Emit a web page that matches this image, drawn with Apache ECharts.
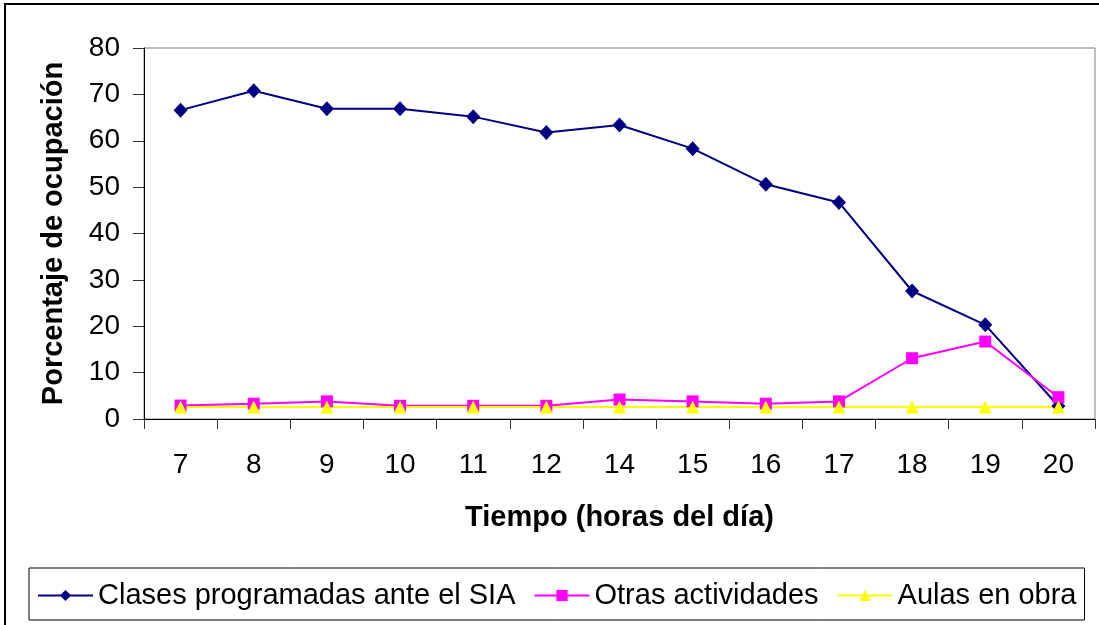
<!DOCTYPE html>
<html>
<head>
<meta charset="utf-8">
<script src="https://cdn.jsdelivr.net/npm/echarts@6/dist/echarts.min.js"></script>
<style>
    html, body { margin: 0; padding: 0; background: #fff; }
    #container { width: 1099px; height: 625px; }
</style>
</head>
<body>
<div id="container"></div>

<script type="text/javascript">
    // horas del dia
    var horas = ['7', '8', '9', '10', '11', '12', '14', '15', '16', '17', '18', '19', '20'];
    // porcentaje de ocupacion por serie
    var clasesSIA = [66.6, 70.8, 66.9, 66.9, 65.2, 61.8, 63.4, 58.3, 50.6, 46.7, 27.6, 20.3, 2.8];
    var otrasActividades = [2.9, 3.3, 3.8, 2.85, 2.85, 2.85, 4.2, 3.8, 3.3, 3.8, 13.1, 16.7, 4.7];
    var aulasObra = [2.6, 2.6, 2.6, 2.6, 2.6, 2.6, 2.6, 2.6, 2.6, 2.6, 2.6, 2.6, 2.6];
    var yTicks = [0, 10, 20, 30, 40, 50, 60, 70, 80];

    var fuente = '"Liberation Sans", Arial, sans-serif';

    var dom = document.getElementById("container");
    var myChart = echarts.init(dom);

    var option = {
        backgroundColor: '#fff',
        animation: false,
        graphic: [{
            type: 'rect',
            silent: true,
            shape: { x: 5, y: 4, width: 1200, height: 700 },
            style: { fill: 'none', stroke: '#000', lineWidth: 2 }
        }],
        grid: {
            left: 144,
            top: 48,
            right: 4,
            bottom: 206,
            show: true,
            borderColor: '#808080',
            borderWidth: 1
        },
        legend: {
            left: 29,
            top: 568,
            itemWidth: 55,
            itemHeight: 14,
            itemGap: 18,
            padding: [13, 8, 10, 8],
            borderColor: '#000',
            borderWidth: 1,
            textStyle: { fontFamily: fuente, fontSize: 29, color: '#000' }
        },
        xAxis: {
            type: 'category',
            data: horas,
            boundaryGap: true,
            name: 'Tiempo (horas del día)',
            nameLocation: 'middle',
            nameGap: 84,
            nameTextStyle: { fontFamily: fuente, fontSize: 29, fontWeight: 'bold', color: '#000' },
            axisLine: { show: true, lineStyle: { color: '#000', width: 1 } },
            axisTick: { show: true, length: 10, lineStyle: { color: '#333' } },
            axisLabel: { margin: 32, fontFamily: fuente, fontSize: 28, color: '#000' },
            splitLine: { show: false }
        },
        yAxis: {
            type: 'value',
            min: yTicks[0],
            max: yTicks[yTicks.length - 1],
            interval: 10,
            name: 'Porcentaje de ocupación',
            nameLocation: 'middle',
            nameGap: 76,
            nameRotate: 90,
            nameTextStyle: { fontFamily: fuente, fontSize: 29, fontWeight: 'bold', color: '#000' },
            axisLine: { show: true, lineStyle: { color: '#000', width: 1 } },
            axisTick: { show: true, length: 11, lineStyle: { color: '#333' } },
            axisLabel: { margin: 24, fontFamily: fuente, fontSize: 28, color: '#000' },
            splitLine: { show: false }
        },
        series: [{
            name: 'Clases programadas ante el SIA',
            type: 'line',
            data: clasesSIA,
            symbol: 'diamond',
            symbolSize: [14, 15],
            itemStyle: { color: '#000080' },
            lineStyle: { color: '#000080', width: 2 }
        }, {
            name: 'Otras actividades',
            type: 'line',
            data: otrasActividades,
            symbol: 'rect',
            symbolSize: 12,
            itemStyle: { color: '#ff00ff' },
            lineStyle: { color: '#ff00ff', width: 2 }
        }, {
            name: 'Aulas en obra',
            type: 'line',
            data: aulasObra,
            symbol: 'triangle',
            symbolSize: 13,
            itemStyle: { color: '#ffff00' },
            lineStyle: { color: '#ffff00', width: 2 }
        }]
    };

    if (option && typeof option === 'object') {
        myChart.setOption(option);
    }
</script>
</body>
</html>
